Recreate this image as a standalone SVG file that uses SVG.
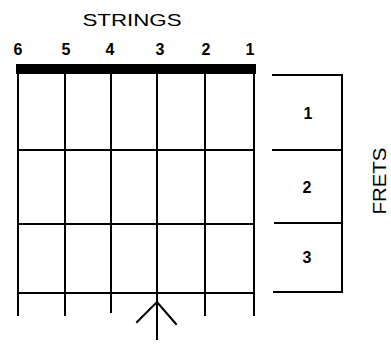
<svg xmlns="http://www.w3.org/2000/svg" width="391" height="344" viewBox="0 0 391 344">
<style>
.ln{stroke:#000;stroke-width:2;fill:none;stroke-linecap:square}
.t{font-family:"Liberation Sans",Arial,sans-serif;fill:#000;text-anchor:middle}
.n{font-size:16px;font-weight:bold}
</style>
<rect width="391" height="344" fill="#fff"/>
<text class="t" x="132" y="26" font-size="17" textLength="99" lengthAdjust="spacingAndGlyphs">STRINGS</text>
<g id="string-numbers">
<text class="t n" x="18" y="55">6</text>
<text class="t n" x="66" y="55">5</text>
<text class="t n" x="110" y="55">4</text>
<text class="t n" x="160" y="55">3</text>
<text class="t n" x="206" y="55">2</text>
<text class="t n" x="250" y="55">1</text>
</g>
<g id="fretboard">
<rect x="16" y="64" width="240" height="10" fill="#000"/>
<path class="ln" d="M18 74V315M65 74V315M111 74V312M157 74V300M205 74V315M254 74V315"/>
<path class="ln" d="M18 150H254M18 224H254M18 293H254"/>
</g>
<g id="fret-box">
<path class="ln" d="M273 75H342V292H274M273 150H342M275 223H342"/>
<text class="t n" x="308" y="119">1</text>
<text class="t n" x="307" y="193">2</text>
<text class="t n" x="307" y="263">3</text>
</g>
<text class="t" x="0" y="0" font-size="18" textLength="67" lengthAdjust="spacingAndGlyphs" transform="translate(386 181) rotate(-90)">FRETS</text>
<g id="connectors">
<path class="ln" d="M157 302V339M137 322L157 302L176 324"/>
</g>
</svg>
